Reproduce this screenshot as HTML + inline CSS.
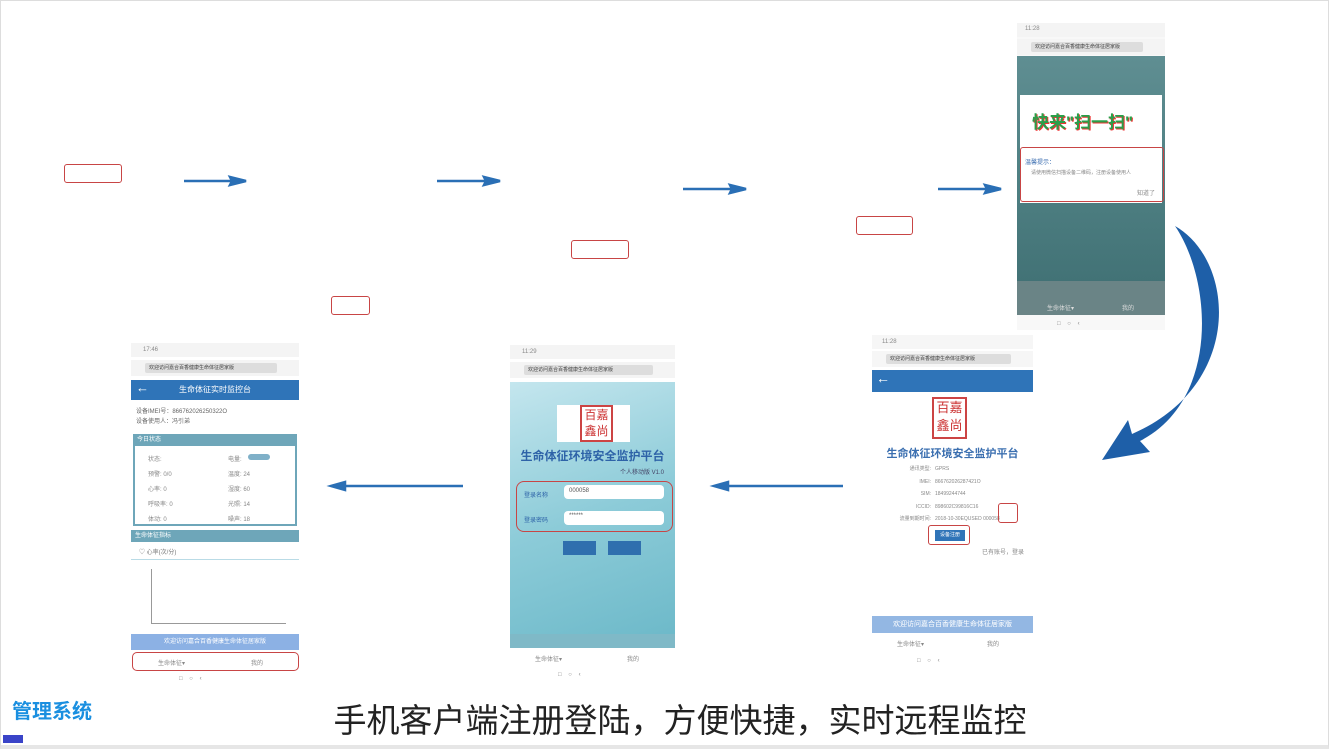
<!DOCTYPE html>
<html><head><meta charset="utf-8"><style>
*{margin:0;padding:0;box-sizing:border-box}
body{width:1329px;height:749px;background:#fff;position:relative;overflow:hidden;font-family:"Liberation Sans","Noto Sans CJK SC",sans-serif}
.a{position:absolute}
.rb{position:absolute;border:1.5px solid #c84545;border-radius:3px}
.t{position:absolute;font-size:6px;color:#888;white-space:nowrap}
.status{position:absolute;left:0;right:0;top:0;height:14px;background:#f4f4f4}
.url{position:absolute;left:0;right:0;height:16px;background:#f4f4f4}
.url div{position:absolute;left:14px;right:22px;top:3px;height:10px;background:#ddd;border-radius:2px;font-size:5px;color:#444;padding-left:4px;line-height:10px}
</style></head><body>
<div class="a" style="left:0;top:0;width:1329px;height:749px;border:1px solid #ddd;border-bottom:4px solid #e6e6e6"></div>

<div class="rb" style="left:64px;top:164px;width:58px;height:19px"></div>
<div class="rb" style="left:571px;top:240px;width:58px;height:19px"></div>
<div class="rb" style="left:856px;top:216px;width:57px;height:19px"></div>
<div class="rb" style="left:331px;top:296px;width:39px;height:19px"></div>

<svg class="a" style="left:0;top:0" width="1329" height="749">
<g stroke="#2a6fb5" stroke-width="2.5" fill="#2a6fb5">
<line x1="184" y1="181" x2="236" y2="181"/><polygon points="246,181 230,177 232,181 230,185"/>
<line x1="437" y1="181" x2="490" y2="181"/><polygon points="500,181 484,177 486,181 484,185"/>
<line x1="683" y1="189" x2="736" y2="189"/><polygon points="746,189 730,185 732,189 730,193"/>
<line x1="938" y1="189" x2="991" y2="189"/><polygon points="1001,189 985,185 987,189 985,193"/>
<line x1="343" y1="486" x2="463" y2="486"/><polygon points="331,486 345,482 345,490"/>
<line x1="726" y1="486" x2="843" y2="486"/><polygon points="714,486 728,482 728,490"/>
</g>
<path d="M1175,226 C1235,260 1245,385 1132,434 L1128,420 L1102,460 L1150,452 L1140,441 C1220,400 1212,280 1175,226 Z" fill="#1e5fa8"/>
</svg>

<!-- top right phone -->
<div class="a" style="left:1017px;top:23px;width:148px;height:307px;background:#f8f8f8">
<div class="status"><span class="t" style="left:8px;top:3px">11:28</span></div>
<div class="url" style="top:16px"><div>欢迎访问嘉合百香健康生命体征居家版</div></div>
<div class="a" style="left:0;top:33px;width:148px;height:259px;background:linear-gradient(#5f8e92,#4e7f82 50%,#3e6e72)"></div>
<div class="a" style="left:0;top:258px;width:148px;height:34px;background:#6a8486"></div>
<div class="t" style="left:30px;top:280px;color:#ddd">生命体征▾</div><div class="t" style="left:105px;top:280px;color:#ddd">我的</div>
<div class="a" style="left:3px;top:72px;width:142px;height:108px;background:#fff"></div>
<div class="a" style="left:15px;top:85px;font-size:17px;font-weight:bold;color:#2a9f4a;text-shadow:1px 1px #e33">快来"扫一扫"</div>
<div class="rb" style="left:3px;top:124px;width:144px;height:55px"></div>
<div class="t" style="left:8px;top:134px;color:#3a6db0">温馨提示：</div>
<div class="t" style="left:14px;top:146px;font-size:5px">请使用微信扫描设备二维码，注册设备使用人</div>
<div class="t" style="left:120px;top:165px">知道了</div>
<div class="t" style="left:40px;top:298px">□ &nbsp;&nbsp;&nbsp;○ &nbsp;&nbsp;&nbsp;‹</div>
</div>

<!-- bottom right phone -->
<div class="a" style="left:872px;top:335px;width:161px;height:333px;background:#fff">
<div class="status" style="background:#f6f6f6"><span class="t" style="left:10px;top:4px">11:28</span></div>
<div class="url" style="top:16px;background:#f6f6f6"><div>欢迎访问嘉合百香健康生命体征居家版</div></div>
<div class="a" style="left:0;top:35px;width:161px;height:22px;background:#2f74b8;color:#fff;font-size:14px;padding-left:4px">←</div>
<div class="a" style="left:60px;top:62px;width:35px;height:42px;border:2px solid #c44;color:#c33;font-size:13px;line-height:18px;text-align:center">百嘉<br>鑫尚</div>
<div class="a" style="left:0;top:110px;width:161px;text-align:center;font-size:11px;font-weight:bold;color:#3b6fb0">生命体征环境安全监护平台</div>
<div class="t" style="left:5px;top:128px;width:54px;line-height:12.5px;text-align:right;font-size:5px">通讯类型:<br>IMEI:<br>SIM:<br>ICCID:<br>流量到期时间:</div>
<div class="t" style="left:63px;top:128px;line-height:12.5px;font-size:5px">GPRS<br>866762026287421O<br>18499244744<br>898602C99816C16<br>2018-10-30EQUSED 000058</div>
<div class="rb" style="left:126px;top:168px;width:20px;height:20px"></div>
<div class="rb" style="left:56px;top:190px;width:42px;height:20px"></div>
<div class="a" style="left:63px;top:195px;width:30px;height:11px;background:#2f74b8;font-size:5px;color:#fff;text-align:center;line-height:11px">设备注册</div>
<div class="t" style="left:110px;top:212px">已有账号，登录</div>
<div class="a" style="left:0;top:281px;width:161px;height:17px;background:#93b7e3;color:#fff;font-size:7px;text-align:center;line-height:17px">欢迎访问嘉合百香健康生命体征居家版</div>
<div class="t" style="left:25px;top:304px">生命体征▾</div><div class="t" style="left:115px;top:304px">我的</div>
<div class="t" style="left:45px;top:323px">□ &nbsp;&nbsp;&nbsp;○ &nbsp;&nbsp;&nbsp;‹</div>
</div>

<!-- middle phone -->
<div class="a" style="left:510px;top:345px;width:165px;height:337px;background:#fff">
<div class="status"><span class="t" style="left:12px;top:4px">11:29</span></div>
<div class="url" style="top:17px"><div>欢迎访问嘉合百香健康生命体征居家版</div></div>
<div class="a" style="left:0;top:37px;width:165px;height:266px;background:linear-gradient(160deg,#c4e6ee,#8ccbd8 50%,#6bb8c8)"></div>
<div class="a" style="left:47px;top:60px;width:73px;height:37px;background:#fff"></div>
<div class="a" style="left:70px;top:60px;width:33px;height:37px;border:2px solid #c44;color:#c33;font-size:12px;line-height:16px;text-align:center">百嘉<br>鑫尚</div>
<div class="a" style="left:0;top:102px;width:165px;text-align:center;font-size:12px;font-weight:bold;color:#2e63a8">生命体征环境安全监护平台</div>
<div class="t" style="left:110px;top:122px;color:#446">个人移动版 V1.0</div>
<div class="rb" style="left:6px;top:136px;width:157px;height:51px;border-radius:8px"></div>
<div class="t" style="left:14px;top:145px;color:#2e63a8">登录名称</div>
<div class="a" style="left:54px;top:140px;width:100px;height:14px;background:#fff;border-radius:4px;font-size:6px;color:#555;padding:3px 5px">000058</div>
<div class="t" style="left:14px;top:170px;color:#2e63a8">登录密码</div>
<div class="a" style="left:54px;top:166px;width:100px;height:14px;background:#fff;border-radius:4px;font-size:6px;color:#555;padding:2px 5px">******</div>
<div class="a" style="left:53px;top:196px;width:33px;height:14px;background:#2f6fae"></div>
<div class="a" style="left:98px;top:196px;width:33px;height:14px;background:#2f6fae"></div>
<div class="a" style="left:0;top:289px;width:165px;height:14px;background:#7fb9c7"></div>
<div class="t" style="left:25px;top:309px">生命体征▾</div><div class="t" style="left:117px;top:309px">我的</div>
<div class="t" style="left:48px;top:327px">□ &nbsp;&nbsp;&nbsp;○ &nbsp;&nbsp;&nbsp;‹</div>
</div>

<!-- left phone -->
<div class="a" style="left:131px;top:343px;width:168px;height:342px;background:#fff">
<div class="status"><span class="t" style="left:12px;top:4px">17:46</span></div>
<div class="url" style="top:17px"><div>欢迎访问嘉合百香健康生命体征居家版</div></div>
<div class="a" style="left:0;top:37px;width:168px;height:20px;background:#2f74b8;color:#fff;font-size:8px;line-height:20px;text-align:center">生命体征实时监控台</div>
<div class="a" style="left:5px;top:37px;color:#fff;font-size:13px">←</div>
<div class="t" style="left:5px;top:64px;color:#666;line-height:10px">设备IMEI号：866762026250322O<br>设备使用人：冯引弟</div>
<div class="a" style="left:2px;top:91px;width:164px;height:92px;border:2px solid #6ea6b9;background:#fff"></div>
<div class="a" style="left:2px;top:91px;width:164px;height:12px;background:#6ea6b9;color:#fff;font-size:6px;padding-left:4px">今日状态</div>
<div class="t" style="left:17px;top:110px;line-height:15px">状态:<br>预警: 0/0<br>心率: 0<br>呼吸率: 0<br>体动: 0</div>
<div class="t" style="left:97px;top:110px;line-height:15px">电量: <br>温度: 24<br>湿度: 60<br>光照: 14<br>噪声: 18</div>
<div class="a" style="left:117px;top:111px;width:22px;height:6px;background:#7fb0c8;border-radius:3px"></div>
<div class="a" style="left:0;top:187px;width:168px;height:12px;background:#6ea6b9;color:#fff;font-size:6px;padding-left:4px">生命体征指标</div>
<div class="t" style="left:8px;top:204px;color:#777">♡ 心率(次/分)</div>
<div class="a" style="left:0;top:216px;width:168px;height:1px;background:#b9dbe6"></div>
<div class="a" style="left:20px;top:226px;width:1px;height:55px;background:#999"></div>
<div class="a" style="left:20px;top:280px;width:135px;height:1px;background:#999"></div>
<div class="a" style="left:0;top:291px;width:168px;height:16px;background:#8cb1e4;color:#fff;font-size:6px;text-align:center;line-height:16px">欢迎访问嘉合百香健康生命体征居家版</div>
<div class="rb" style="left:1px;top:309px;width:167px;height:19px;border-radius:5px"></div>
<div class="t" style="left:27px;top:315px">生命体征▾</div><div class="t" style="left:120px;top:315px">我的</div>
<div class="t" style="left:48px;top:333px">□ &nbsp;&nbsp;&nbsp;○ &nbsp;&nbsp;&nbsp;‹</div>
</div>

<div class="a" style="left:12px;top:695px;font-size:20px;font-weight:bold;color:#1a8fe0">管理系统</div>
<div class="a" style="left:3px;top:735px;width:20px;height:8px;background:#3a44c8"></div>
<div class="a" style="left:280px;top:701px;width:800px;text-align:center;font-size:33px;line-height:40px;color:#222">手机客户端注册登陆，方便快捷，实时远程监控</div>
</body></html>
